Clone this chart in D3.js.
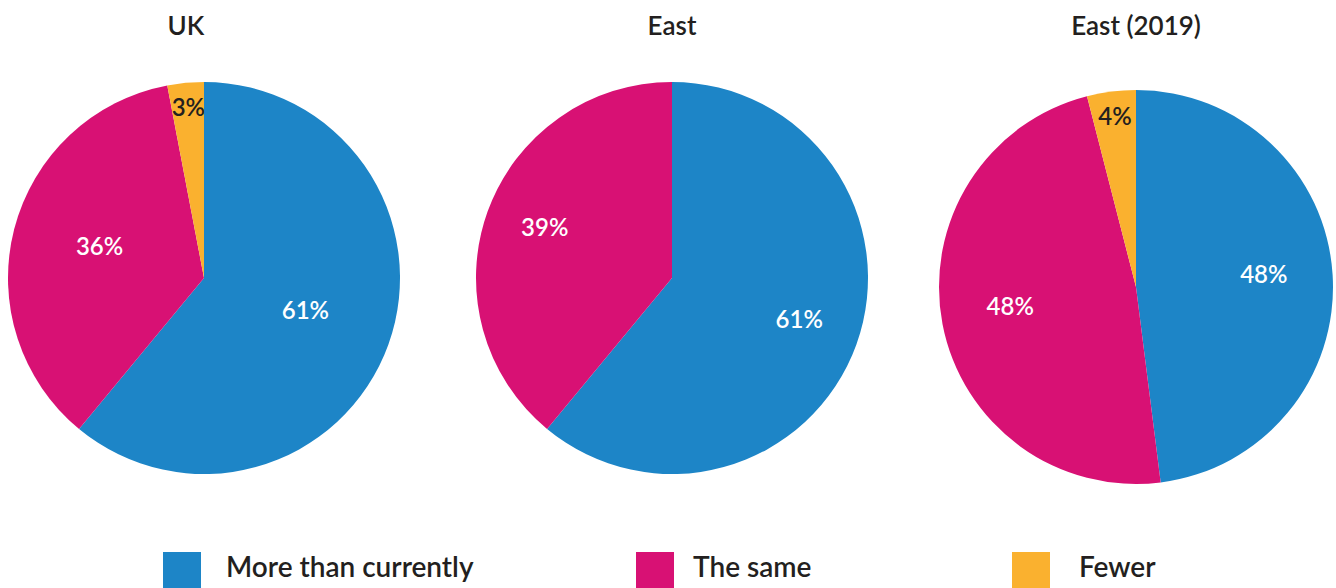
<!DOCTYPE html>
<html>
<head>
<meta charset="utf-8">
<script src="https://cdn.jsdelivr.net/npm/d3@7"></script>
<style>
  html, body { margin: 0; padding: 0; background: #fff; }
  svg { display: block; font-family: "Lato", "Open Sans", sans-serif; }
</style>
</head>
<body>
<svg id="chart" width="1336" height="588"></svg>
<script>
// datos de la figura
var regions = ["UK", "East", "East (2019)"];
var categories = ["More than currently", "The same", "Fewer"];
var moreThanCurrently = [61, 61, 48];
var theSame = [36, 39, 48];
var fewer = [3, 0, 4];

var colors = ["#1d85c7", "#d81174", "#fab12f"];

var svg = d3.select("#chart");

// posiciones de cada tarta
var cx = d3.scaleOrdinal().domain(regions).range([204, 672, 1136]);
var cyOffset = [0, 0, 9];
var radius = [196, 196, 197];
var labelFrac = [0.55, 0.69, 0.65];

var color = d3.scaleOrdinal().domain(categories).range(colors);

var pie = d3.pie().sort(null).value(function(d) { return d.value; });

regions.forEach(function(region, i) {
  var values = [moreThanCurrently[i], theSame[i], fewer[i]];
  var rows = categories.map(function(c, j) { return { cat: c, value: values[j] }; })
    .filter(function(d) { return d.value > 0; });

  var r = radius[i];
  var g = svg.append("g")
    .attr("transform", "translate(" + cx(region) + "," + (278 + cyOffset[i]) + ")");

  var arc = d3.arc().innerRadius(0).outerRadius(r);

  var arcs = pie(rows);

  g.selectAll("path").data(arcs).enter().append("path")
    .attr("d", arc)
    .attr("fill", function(d) { return color(d.data.cat); });

  // etiquetas: la linea base queda sobre el punto
  g.selectAll("text.lbl").data(arcs).enter().append("text")
    .attr("class", "lbl")
    .attr("transform", function(d) {
      var k = d.data.value < 5 ? 0.85 : labelFrac[i];
      var a = (d.startAngle + d.endAngle) / 2;
      return "translate(" + (Math.sin(a) * r * k) + "," + (-Math.cos(a) * r * k + 4) + ")";
    })
    .attr("text-anchor", "middle")
    .attr("font-size", 24)
    .attr("font-weight", 600)
    .attr("fill", function(d) { return d.data.value < 5 ? "#231f20" : "#ffffff"; })
    .text(function(d) { return d.data.value + "%"; });

  svg.append("text")
    .attr("x", cx(region) - (i == 0 ? 18 : 0))
    .attr("y", 35)
    .attr("text-anchor", "middle")
    .attr("font-size", 26)
    .attr("font-weight", 600)
    .attr("fill", "#231f20")
    .text(region);
});

// leyenda
var legendX = [163, 636, 1012];
var legendTextX = [226, 693, 1079];

var leg = svg.selectAll("g.legend").data(categories).enter().append("g")
  .attr("class", "legend");

leg.append("rect")
  .attr("x", function(d, i) { return legendX[i]; })
  .attr("y", 552)
  .attr("width", 38)
  .attr("height", 38)
  .attr("fill", function(d) { return color(d); });

leg.append("text")
  .attr("x", function(d, i) { return legendTextX[i]; })
  .attr("y", 577)
  .attr("font-size", 28)
  .attr("font-weight", 600)
  .attr("fill", "#231f20")
  .text(function(d) { return d; });
</script>
</body>
</html>
